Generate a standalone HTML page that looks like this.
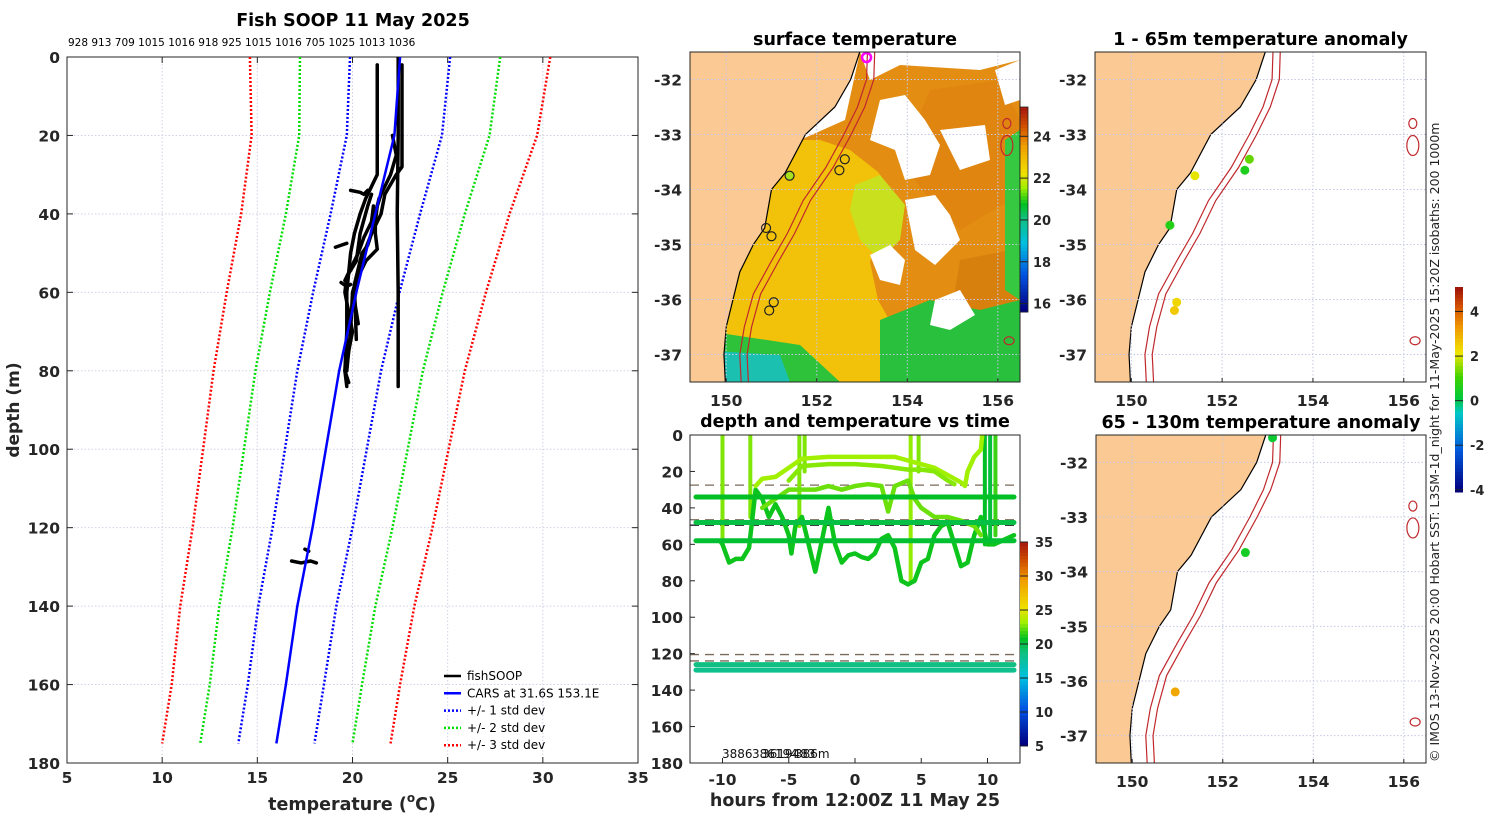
<!DOCTYPE html>
<html><head><meta charset="utf-8"><style>
body{margin:0;background:#fff;}
svg{display:block;font-family:"DejaVu Sans","Liberation Sans",sans-serif;}
.tk{font-size:15.5px;font-weight:bold;fill:#262626;}
.ttl{font-size:17.5px;font-weight:bold;fill:#000;}
</style></head><body>
<svg id="fig" width="1500" height="820" viewBox="0 0 1500 820" xmlns="http://www.w3.org/2000/svg">
<defs>
<clipPath id="cpL"><rect x="67" y="57" width="571" height="706"/></clipPath>
<clipPath id="cpM"><rect x="690" y="52" width="330" height="330"/></clipPath>
<clipPath id="cpT"><rect x="690" y="435" width="330" height="328"/></clipPath>
<clipPath id="cpR1"><rect x="1095" y="52" width="331" height="330"/></clipPath>
<clipPath id="cpR2"><rect x="1096" y="435" width="330" height="328"/></clipPath>
</defs>
<g id="gL"></g>
<g id="gM"></g>
<g id="gT"></g>
<g id="gR1"></g>
<g id="gR2"></g>
<text x="1439" y="762" transform="rotate(-90 1439 762)" font-size="12.5" fill="#222">© IMOS 13-Nov-2025 20:00 Hobart SST: L3SM-1d_night for 11-May-2025 15:20Z isobaths: 200  1000m</text>
</svg>
<script>
// ---------- DATA ----------
const carsDepth=[0,20,40,60,80,100,120,140,160,175];
const carsTemp=[22.5,22.2,21.2,20.2,19.3,18.6,17.9,17.1,16.5,16.0];
const carsStd=[2.63,2.5,2.35,2.27,2.2,2.15,2.1,2.05,2.0,2.0];
const fishProfiles=[
 [[2,21.3],[30,21.3],[33,21.0],[36,20.7],[40,20.4],[45,20.1],[50,19.9],[55,19.8],[60,19.7],[70,19.7],[80,19.6],[84,19.7]],
 [[0,22.4],[20,22.4],[40,22.35],[60,22.4],[84,22.4]],
 [[2,22.6],[20,22.6],[28,22.6],[30,22.3],[35,21.7],[40,21.5],[45,21.0],[50,20.6],[55,20.3],[60,20.0],[70,19.9],[80,19.7]],
 [[20,22.1],[25,22.3],[30,22.0],[35,21.5],[38,21.3],[42,21.2],[48,20.8],[50,20.5],[58,20.1],[72,20.2]],
 [[35,21.0],[38,20.8],[45,20.4],[52,20.2],[56,19.7],[60,19.6],[70,20.0],[80,19.6],[83,19.8]],
 [[36,21.4],[40,21.2],[45,21.2],[49,21.3],[52,20.7],[56,20.3],[62,20.1],[68,20.3]],
 [[38,21.1],[42,21.0],[46,20.6],[50,20.3],[57,19.6]],
 [[34,19.9],[34.5,20.4],[35,20.6],[34,20.8]],
 [[48.5,19.1],[48,19.4],[47.5,19.7]],
 [[57.5,19.4],[58.5,19.7],[58,19.9]],
 [[128.5,16.8],[129,17.3],[128.5,17.8],[129,18.1]],
 [[125.5,17.5],[126,17.7]]
];
const profileIds=["928","913","709","1015","1016","918","925","1015","1016","705","1025","1013","1036"];
const xTicksL=[5,10,15,20,25,30,35];
const yTicksDepth=[0,20,40,60,80,100,120,140,160,180];
const bandDepths=[34,48,58,126,129];
const bandTemps=[20.5,19.8,20.2,18.4,18.0];
const trackWiggle=[[-12,58],[-10.2,58],[-10,60],[-9.5,70],[-9,68],[-8.5,68],[-8,62],[-7.5,30],[-7,35],[-6.5,45],[-6,38],[-5.5,45],[-5,55],[-4.8,65],[-4.5,50],[-4,45],[-3.5,60],[-3,75],[-2.5,58],[-2,40],[-1.5,60],[-1,70],[-0.5,66],[0,65],[0.5,67],[1,68],[1.5,65],[2,57],[2.5,55],[3,62],[3.5,80],[4,82],[4.5,80],[5,70],[5.5,68],[6,55],[6.5,50],[7,48],[7.5,60],[8,72],[8.5,70],[9,55],[9.5,45],[10,60],[10.5,60],[12,55]];
const trackUpper=[[-7.5,28],[-7,24],[-6,23],[-5,18],[-4,13],[-2,12],[0,12],[2,12],[3,12],[4,14],[5,16],[6,18],[7,22],[8,26],[8.3,28],[8.5,20],[9,12],[9.5,8],[9.6,0]];
const trackUpper2=[[-5,25],[-4,17],[-2,16],[0,16],[2,17],[4,19],[5,19],[6,20],[7,25],[7.5,27]];
const trackMid=[[-7,40],[-6,35],[-5,30],[-3,30],[-2,28],[-1,30],[0,28],[1,27],[2,28],[2.5,42],[3,28],[4,25],[4.5,35],[5,40],[6,45],[7,45],[8,47],[9,50],[9.5,55]];
const trackTemps=[20.8,23.0,22.6,22.2];
const spikeHours=[-10,-7.9,-4.2,-3.8,4.2,4.8,9.8,10.2,10.6];
const spikeDepths=[60,45,50,20,80,20,60,60,55];
const spikeTemps=[22.5,22.5,22.5,22.5,22.8,22.5,20.5,20.0,21.5];
const dashDepths=[27.5,46.5,49.5,120.5,124];
const xTicksT=[-10,-5,0,5,10];
const cbTicksT=[5,10,15,20,25,30,35];
const coastLon=[152.95,152.75,152.4,151.75,151.3,151.0,150.85,150.6,150.3,150.15,150.0,149.95,149.98];
const coastLat=[-31.5,-32,-32.5,-33,-33.7,-34.0,-34.7,-35,-35.5,-36,-36.5,-37,-37.5];
const isoLon=[153.12,153.1,152.9,152.6,152.2,151.7,151.35,151.0,150.6,150.4,150.3,150.33];
const isoLat=[-31.5,-32,-32.5,-33,-33.6,-34.2,-34.8,-35.3,-35.9,-36.5,-37,-37.5];
const lonTicks=[150,152,154,156];
const latTicks=[-32,-33,-34,-35,-36,-37];
const obsLon=[151.4,152.5,152.62,150.88,151.0,150.95,151.05];
const obsLat=[-33.75,-33.65,-33.45,-34.7,-34.85,-36.2,-36.05];
const anomShallowLon=[151.4,152.5,152.6,150.85,151.0,150.95];
const anomShallowLat=[-33.75,-33.65,-33.45,-34.65,-36.05,-36.2];
const anomShallowVal=[2.0,0.5,1.2,0.6,2.3,2.5];
const anomDeepLon=[153.1,152.5,150.95];
const anomDeepLat=[-31.55,-33.65,-36.2];
const anomDeepVal=[0.2,0.4,3.0];
const sstTicks=[16,18,20,22,24];
const anomTicks=[-4,-2,0,2,4];

// ---------- HELPERS ----------
const NS="http://www.w3.org/2000/svg";
function mk(parent,tag,attrs,txt){const e=document.createElementNS(NS,tag);for(const k in attrs)e.setAttribute(k,attrs[k]);if(txt!==undefined)e.textContent=txt;parent.appendChild(e);return e;}
const stops=[[0,[0,0,128]],[0.17,[0,80,224]],[0.33,[0,192,224]],[0.45,[16,192,128]],[0.52,[0,192,32]],[0.6,[160,240,0]],[0.67,[240,224,0]],[0.8,[240,160,0]],[0.9,[208,80,0]],[1,[160,16,16]]];
function cmap(t){t=Math.max(0,Math.min(1,t));for(let i=1;i<stops.length;i++){if(t<=stops[i][0]){const a=stops[i-1],b=stops[i],f=(t-a[0])/(b[0]-a[0]);const c=a[1].map((v,j)=>Math.round(v+(b[1][j]-v)*f));return `rgb(${c.join(',')})`;}}return 'rgb(160,16,16)';}
const anomStops=[[0,[0,0,128]],[0.2,[0,90,220]],[0.38,[0,200,200]],[0.45,[0,200,60]],[0.55,[60,210,0]],[0.67,[240,230,0]],[0.8,[240,150,0]],[0.9,[210,80,0]],[1,[150,10,10]]];
function amap(t){t=Math.max(0,Math.min(1,t));for(let i=1;i<anomStops.length;i++){if(t<=anomStops[i][0]){const a=anomStops[i-1],b=anomStops[i],f=(t-a[0])/(b[0]-a[0]);const c=a[1].map((v,j)=>Math.round(v+(b[1][j]-v)*f));return `rgb(${c.join(',')})`;}}return 'rgb(150,10,10)';}

// ---------- LEFT PANEL ----------
(function(){
const g=document.getElementById('gL');
const X=t=>67+(t-5)*571/30, Y=d=>57+d*706/180;
mk(g,'text',{x:353,y:26,'text-anchor':'middle',class:'ttl',},'Fish SOOP 11 May 2025');
mk(g,'text',{x:68,y:46,'font-size':10.5,fill:'#000',},profileIds.join(' '));
const grid=mk(g,'g',{stroke:'#d0d2e4','stroke-width':1,'stroke-dasharray':'1.5,2'});

xTicksL.slice(1,-1).forEach(t=>mk(grid,'line',{x1:X(t),x2:X(t),y1:57,y2:763}));
yTicksDepth.slice(1,-1).forEach(d=>mk(grid,'line',{x1:67,x2:638,y1:Y(d),y2:Y(d)}));
const ax=mk(g,'g',{stroke:'#262626','stroke-width':1});
xTicksL.forEach(t=>{mk(ax,'line',{x1:X(t),x2:X(t),y1:763,y2:757});mk(ax,'line',{x1:X(t),x2:X(t),y1:57,y2:63});
 const tx=mk(g,'text',{x:X(t),y:783,'text-anchor':'middle',class:'tk'},t);});
yTicksDepth.forEach(d=>{mk(ax,'line',{x1:67,x2:73,y1:Y(d),y2:Y(d)});mk(ax,'line',{x1:638,x2:632,y1:Y(d),y2:Y(d)});
 const tx=mk(g,'text',{x:60,y:Y(d)+6,'text-anchor':'end',class:'tk'},d);});
mk(g,'rect',{x:67,y:57,width:571,height:706,fill:'none',stroke:'#262626','stroke-width':1,});
mk(g,'text',{x:19,y:410,transform:'rotate(-90 19 410)','text-anchor':'middle',class:'tk',style:'font-size:17px',},'depth (m)');
const xt=mk(g,'text',{x:352,y:810,'text-anchor':'middle',class:'tk',style:'font-size:17.5px',});
xt.innerHTML='temperature (<tspan style="font-size:12px" dy="-8">o</tspan><tspan dy="8">C)</tspan>';
const pl=mk(g,'g',{'clip-path':'url(#cpL)'});
const cols=['#0000ff','#00dd00','#ff0000'];
[1,2,3].forEach((k,i)=>{[-1,1].forEach(s=>{
 const pts=carsDepth.map((d,j)=>X(carsTemp[j]+s*k*carsStd[j])+','+Y(d)).join(' ');
 const e=mk(pl,'polyline',{points:pts,fill:'none',stroke:cols[i],'stroke-width':2.5,'stroke-dasharray':'2,2'});
 });});
fishProfiles.forEach(p=>{const e=mk(pl,'polyline',{points:p.map(q=>X(q[1])+','+Y(q[0])).join(' '),fill:'none',stroke:'#000','stroke-width':3.5,'stroke-linejoin':'round','stroke-linecap':'round'});
 });
const cl=mk(pl,'polyline',{points:carsDepth.map((d,j)=>X(carsTemp[j])+','+Y(d)).join(' '),fill:'none',stroke:'#0000ff','stroke-width':2.5});

const lg=mk(g,'g',{});
const items=[['fishSOOP','#000',''],['CARS at 31.6S 153.1E','#0000ff',''],['+/- 1 std dev','#0000ff','2,2'],['+/- 2 std dev','#00dd00','2,2'],['+/- 3 std dev','#ff0000','2,2']];
items.forEach((it,i)=>{const y=676+i*17.3;const e=mk(lg,'g',{});
 mk(e,'line',{x1:444,x2:461,y1:y,y2:y,stroke:it[1],'stroke-width':2.5,'stroke-dasharray':it[2]||'none'});
 mk(e,'text',{x:467,y:y+4,'font-size':12,fill:'#000'},it[0]);});
})();

// ---------- MAP HELPER ----------
function drawMap(g,box,clip,opts){
 const lon0=149.2,lon1=156.49;
 const X=lon=>box.x+(lon-lon0)*box.w/(lon1-lon0);
 const Y=lat=>box.y+(-31.5-lat)*box.h/6.0;
 const layer=mk(g,'g',{'clip-path':`url(#${clip})`});
 mk(layer,'rect',{x:box.x,y:box.y,width:box.w,height:box.h,fill:'#fff'});
 if(opts.sst) opts.sst(layer,X,Y);
 const lp=mk(layer,'path',{d:'M'+X(153.2)+','+Y(-31)+' L'+coastLon.map((l,i)=>X(l)+','+Y(coastLat[i])).join(' L')+' L'+X(149.98)+','+Y(-38)+' L'+X(148)+','+Y(-38)+' L'+X(148)+','+Y(-31)+'Z',fill:'#fbc993',stroke:'#000','stroke-width':1.2});
 
 const grid=mk(layer,'g',{stroke:'#c5c8e6','stroke-width':1,'stroke-dasharray':'1.5,2'});
 lonTicks.forEach(l=>mk(grid,'line',{x1:X(l),x2:X(l),y1:box.y,y2:box.y+box.h}));
 latTicks.forEach(l=>mk(grid,'line',{x1:box.x,x2:box.x+box.w,y1:Y(l),y2:Y(l)}));
 [0,0.16].forEach(off=>{const e=mk(layer,'polyline',{points:isoLon.map((l,i)=>X(l+off)+','+Y(isoLat[i])).join(' '),fill:'none',stroke:'#c0282c','stroke-width':1.2});
  });
 [[156.2,-32.8,4,5],[156.2,-33.2,6,10],[156.25,-36.75,5,4]].forEach(s=>mk(layer,'ellipse',{cx:X(s[0]),cy:Y(s[1]),rx:s[2],ry:s[3],fill:'none',stroke:'#c0282c','stroke-width':1.2}));
 mk(g,'rect',{x:box.x,y:box.y,width:box.w,height:box.h,fill:'none',stroke:'#262626','stroke-width':1});
 lonTicks.forEach(l=>{mk(g,'line',{x1:X(l),x2:X(l),y1:box.y+box.h,y2:box.y+box.h-4,stroke:'#262626'});
  const t=mk(g,'text',{x:X(l),y:box.y+box.h+24,'text-anchor':'middle',class:'tk'},l);});
 latTicks.forEach(l=>{const t=mk(g,'text',{x:box.x-8,y:Y(l)+6,'text-anchor':'end',class:'tk'},l);});
 mk(g,'text',{x:box.x+box.w/2,y:box.y-7,'text-anchor':'middle',class:'ttl',},opts.title);
 return {X,Y,layer};
}

// ---------- SST MAP ----------
(function(){
const g=document.getElementById('gM');
const m=drawMap(g,{x:690,y:52,w:330,h:330},'cpM',{title:'surface temperature',sst:(L,X,Y)=>{
 const P=(pts,fill)=>mk(L,'polygon',{points:pts,fill:fill});
 P('690,52 1020,52 1020,382 690,382','#e38d12');
 P('930,90 1000,80 1020,120 1010,200 960,230 930,200 900,160','#df8510');
 P('960,260 1010,250 1020,310 990,330 950,320','#d8800e');
 P('700,140 820,140 850,150 878,172 898,200 880,232 870,262 878,300 895,330 905,382 700,382','#f2c20a');
 P('855,185 880,175 905,205 900,240 880,260 860,240 850,210','#c8e01e');
 P('700,330 800,345 840,382 700,382','#2ec23a');
 P('880,320 930,300 980,310 1020,300 1020,382 880,382','#28c03c');
 P('700,350 780,355 790,382 700,382','#1cc0b0');
 P('1005,140 1020,130 1020,300 1005,290','#36c840');
 P('860,52 1020,52 1020,60 980,70 900,65 870,80','#fff');
 P('880,100 905,95 925,120 940,145 930,175 905,180 895,150 870,140','#fff');
 P('905,200 935,195 950,215 960,240 935,265 915,250','#fff');
 P('940,130 985,125 990,160 960,170','#fff');
 P('870,255 890,245 905,260 900,285 880,280','#fff');
 P('935,300 960,290 975,315 950,330 930,325','#fff');
 P('730,52 860,52 845,120 800,140 760,160 720,160','#fff');
 P('995,70 1020,60 1020,100 1005,105','#fff');
}});
obsLon.forEach((l,i)=>{const c=mk(m.layer,'circle',{cx:m.X(l),cy:m.Y(obsLat[i]),r:4.5,fill:i===0?'#a8e020':'none',stroke:'#222','stroke-width':1.2});
 });
const mg=mk(m.layer,'circle',{cx:m.X(153.1),cy:m.Y(-31.6),r:4.5,fill:'none',stroke:'#ff00ff','stroke-width':2.5});

const y0=107,y1=312,v0=15.6,v1=25.4;const CY=v=>y1-(v-v0)*(y1-y0)/(v1-v0);
const cb=mk(g,'g',{});
for(let i=0;i<60;i++){const va=v0+(v1-v0)*i/60,vb=v0+(v1-v0)*(i+1)/60;mk(cb,'rect',{x:1020,y:CY(vb),width:8,height:CY(va)-CY(vb)+0.5,fill:cmap((va-v0)/(v1-v0))})}
mk(cb,'rect',{x:1020,y:y0,width:8,height:y1-y0,fill:'none',stroke:'#222','stroke-width':0.8});
sstTicks.forEach(v=>{mk(cb,'line',{x1:1020,x2:1028,y1:CY(v),y2:CY(v),stroke:'#222'});mk(cb,'text',{x:1033,y:CY(v)+5,class:'tk',style:'font-size:13px'},v);});
})();

// ---------- DEPTH-TIME PANEL ----------
(function(){
const g=document.getElementById('gT');
const X=h=>855+h*13.25, Y=d=>435+d*328/180;
const C=t=>cmap((t-5)/30);
mk(g,'text',{x:855,y:427,'text-anchor':'middle',class:'ttl',},'depth and temperature vs time');
const L=mk(g,'g',{'clip-path':'url(#cpT)'});
dashDepths.forEach((d,i)=>{const e=mk(L,'line',{x1:690,x2:1020,y1:Y(d),y2:Y(d),stroke:i===2?'#222':'#7a6a5a','stroke-width':1.3,'stroke-dasharray':'9,6'});
 });
spikeHours.forEach((h,i)=>{const e=mk(L,'line',{x1:X(h),x2:X(h),y1:Y(0),y2:Y(spikeDepths[i]),stroke:C(spikeTemps[i]),'stroke-width':4,'stroke-linecap':'round'});
 });
[trackWiggle,trackUpper,trackUpper2,trackMid].forEach((tr,i)=>{const e=mk(L,'polyline',{points:tr.map(q=>X(q[0])+','+Y(q[1])).join(' '),fill:'none',stroke:C(trackTemps[i]),'stroke-width':4.5,'stroke-linejoin':'round','stroke-linecap':'round'});
 });
bandDepths.forEach((d,i)=>{const e=mk(L,'line',{x1:X(-12),x2:X(12),y1:Y(d),y2:Y(d),stroke:C(bandTemps[i]),'stroke-width':5,'stroke-linecap':'round'});
 });
mk(g,'rect',{x:690,y:435,width:330,height:328,fill:'none',stroke:'#262626','stroke-width':1});
yTicksDepth.forEach(d=>{mk(g,'line',{x1:690,x2:695,y1:Y(d),y2:Y(d),stroke:'#262626'});
 const t=mk(g,'text',{x:683,y:Y(d)+6,'text-anchor':'end',class:'tk'},d);});
xTicksT.forEach(h=>{mk(g,'line',{x1:X(h),x2:X(h),y1:763,y2:758,stroke:'#262626'});
 const t=mk(g,'text',{x:X(h),y:785,'text-anchor':'middle',class:'tk'},h);});
mk(g,'text',{x:855,y:806,'text-anchor':'middle',class:'tk',style:'font-size:17.5px',},'hours from 12:00Z 11 May 25');
['3886','386194','3619483','386m'].forEach((s,i)=>mk(g,'text',{x:[722,752,762,795][i],y:758,'font-size':12,fill:'#111',},s));
const y0=542,y1=746;const CY=v=>y1-(v-5)*(y1-y0)/30;
const cb=mk(g,'g',{});
for(let i=0;i<60;i++){const va=5+30*i/60,vb=5+30*(i+1)/60;mk(cb,'rect',{x:1020,y:CY(vb),width:8,height:CY(va)-CY(vb)+0.5,fill:C(va)})}
cbTicksT.forEach(v=>{mk(cb,'line',{x1:1020,x2:1028,y1:CY(v),y2:CY(v),stroke:'#222'});mk(cb,'text',{x:1035,y:CY(v)+5,class:'tk',style:'font-size:13px'},v);});
})();

// ---------- ANOMALY MAPS ----------
(function(){
const A=v=>amap((v+4.1)/9.2);
const g1=document.getElementById('gR1');
const m1=drawMap(g1,{x:1095,y:52,w:331,h:330},'cpR1',{title:'1 - 65m temperature anomaly'});
anomShallowLon.forEach((l,i)=>{const c=mk(m1.layer,'circle',{cx:m1.X(l),cy:m1.Y(anomShallowLat[i]),r:4.5,fill:A(anomShallowVal[i])});
 });
const g2=document.getElementById('gR2');
const m2=drawMap(g2,{x:1096,y:435,w:330,h:328},'cpR2',{title:'65 - 130m temperature anomaly'});
anomDeepLon.forEach((l,i)=>{const c=mk(m2.layer,'circle',{cx:m2.X(l),cy:m2.Y(anomDeepLat[i]),r:4.5,fill:A(anomDeepVal[i])});
 });
const y0=287,y1=492,v0=-4.1,v1=5.1;const CY=v=>y1-(v-v0)*(y1-y0)/(v1-v0);
const cb=mk(g2,'g',{});
for(let i=0;i<60;i++){const va=v0+(v1-v0)*i/60,vb=v0+(v1-v0)*(i+1)/60;mk(cb,'rect',{x:1455,y:CY(vb),width:8,height:CY(va)-CY(vb)+0.5,fill:A(va)})}
anomTicks.forEach(v=>{mk(cb,'line',{x1:1455,x2:1463,y1:CY(v),y2:CY(v),stroke:'#222'});mk(cb,'text',{x:1470,y:CY(v)+5,class:'tk',style:'font-size:13px'},v);});
})();
</script>
</body></html>
